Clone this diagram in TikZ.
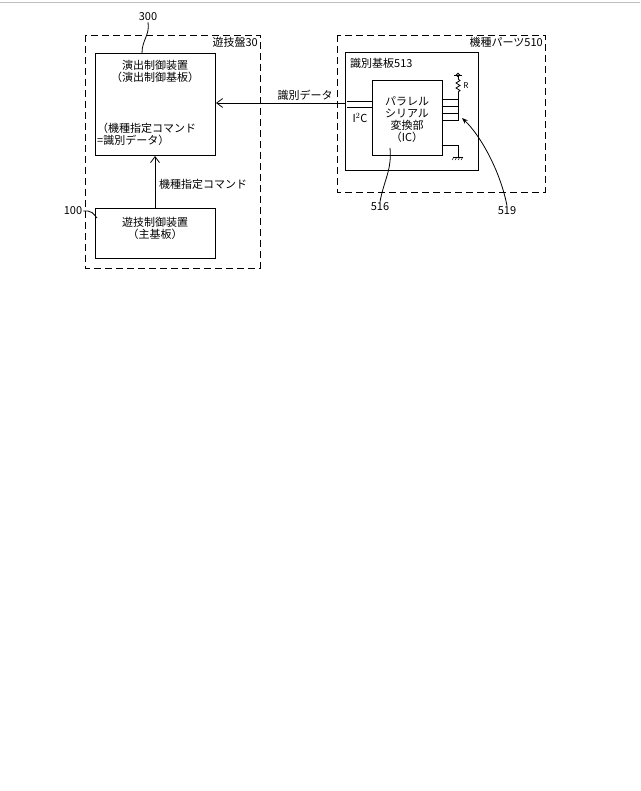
\documentclass[tikz,border=0pt]{standalone}
\usepackage{fontspec}
\setmainfont{Noto Sans CJK JP}
\usetikzlibrary{arrows.meta,decorations.pathmorphing}
\begin{document}
\begin{tikzpicture}[x=1pt,y=-1pt,
  dashbox/.style={draw,dash pattern=on 7pt off 4pt,line width=0.8pt},
  boxs/.style={draw,line width=0.8pt},
  lbl/.style={font=\fontsize{11}{12}\selectfont,inner sep=1pt},
  ln/.style={line width=0.8pt}]
\useasboundingbox (0,0) rectangle (640,791);
\draw[gray!50,line width=0.6pt] (0,2) -- (640,2);
% left
\draw[dashbox] (85,35) rectangle (260,268);
\node[lbl,anchor=north east] (g30) at (259,36) {遊技盤30};
\draw[boxs] (95,53) rectangle (215,155);
\coordinate (b300n) at (142,53);
\node[lbl,align=center] (t300a) at (155,71) {演出制御装置\\（演出制御基板）};
\node[lbl,align=left,anchor=west] (t300b) at (96,134) {（機種指定コマンド\\=識別データ）};
\node[lbl] (n300) at (148,17) {300};
\draw[ln] (n300.south) .. controls (150,35) and (142,40) .. (b300n);
\draw[boxs] (95,208) rectangle (215,258);
\node[lbl,align=center] (t100) at (155,228) {遊技制御装置\\（主基板）};
\node[lbl] (n100) at (73,211) {100};
\draw[ln] (n100.east) -- (88,211) .. controls (92,212) .. (97,218);
\coordinate (a1) at (155,208); \coordinate (a2) at (155,156);
\draw[ln,-{Straight Barb[length=6pt,width=9pt]}] (a1) -- (a2);
\node[lbl,anchor=west] (cmd) at (158,184) {機種指定コマンド};
% right
\draw[dashbox] (337,35) rectangle (545,192);
\node[lbl,anchor=north east] (p510) at (544,36) {機種パーツ510};
\draw[boxs] (345,52) rectangle (478,170);
\node[lbl,anchor=west] (k513) at (349,63) {識別基板513};
\draw[boxs] (372,80) rectangle (442,155);
\node[lbl,align=center] (ic) at (407,120) {パラレル\\シリアル\\変換部\\（IC）};
\coordinate (l1) at (345,103); \coordinate (l2) at (216,103);
\draw[ln,-{Straight Barb[length=6pt,width=9pt]}] (l1) -- (l2);
\node[lbl] (sid) at (305,95) {識別データ};
\draw[ln] (347,101) -- (372,101) (347,107) -- (372,107);
\node[lbl] (i2c) at (360,118) {I$^2$C};
\foreach \y in {99,106,113,120} \draw[ln] (442,\y) -- (458,\y);
\draw[ln] (458,92) -- (458,121);
\draw[ln] (458,79) -- (460,80.5) -- (456,83) -- (460,85.5) -- (456,88) -- (460,90.5) -- (458,92);
\draw[ln] (458,75) -- (458,79);
\draw[ln] (458,75) circle (1.8);
\draw[ln] (454,75) -- (462,75);
\node[font=\fontsize{8}{9}\selectfont] (R) at (466,86) {R};
\draw[ln] (442,145) -- (458,145) -- (458,157);
\draw[ln] (453,157) -- (463,157);
\foreach \x in {454,457,460,463} \draw[line width=0.5pt] (\x,157) -- (\x-2,160);
\node[lbl] (n516) at (380,207) {516};
\draw[ln] (n516.north) .. controls (384,180) and (392,170) .. (390,148);
\node[lbl] (n519) at (507,211) {519};
\draw[ln,-{Stealth[length=6pt]}] (n519.north) .. controls (500,170) and (480,135) .. (462,118);
\end{tikzpicture}
\end{document}
